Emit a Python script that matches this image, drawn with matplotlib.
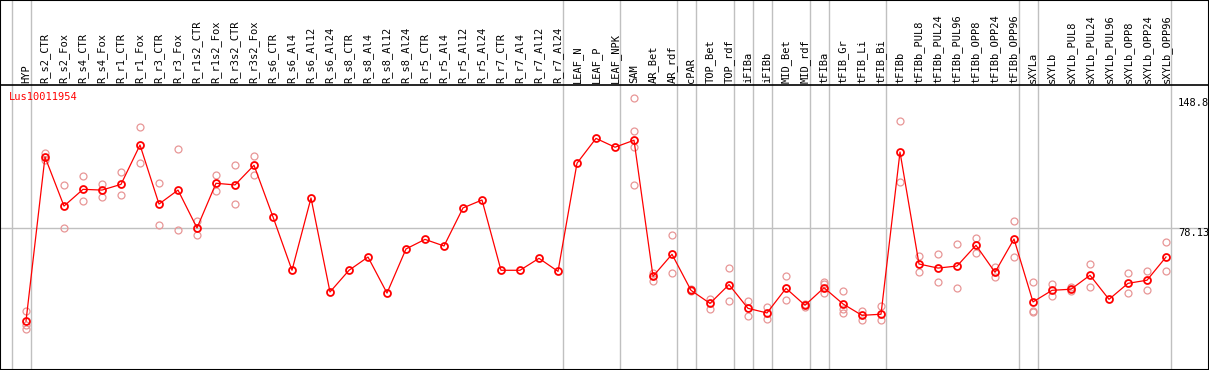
import numpy as np
import matplotlib
matplotlib.use('Agg')
import matplotlib.pyplot as plt

# sample columns
labels = ['HYP', 'R_s2_CTR', 'R_s2_Fox', 'R_s4_CTR', 'R_s4_Fox', 'R_r1_CTR', 'R_r1_Fox',
          'R_r3_CTR', 'R_r3_Fox', 'R_r1s2_CTR', 'R_r1s2_Fox', 'R_r3s2_CTR', 'R_r3s2_Fox',
          'R_s6_CTR', 'R_s6_Al4', 'R_s6_Al12', 'R_s6_Al24', 'R_s8_CTR', 'R_s8_Al4',
          'R_s8_Al12', 'R_s8_Al24', 'R_r5_CTR', 'R_r5_Al4', 'R_r5_Al12', 'R_r5_Al24',
          'R_r7_CTR', 'R_r7_Al4', 'R_r7_Al12', 'R_r7_Al24', 'LEAF_N', 'LEAF_P', 'LEAF_NPK',
          'SAM', 'AR_Bet', 'AR_rdf', 'cPAR', 'TOP_Bet', 'TOP_rdf', 'iFIBa', 'iFIBb',
          'MID_Bet', 'MID_rdf', 'tFIBa', 'tFIB_Gr', 'tFIB_Li', 'tFIB_Bi', 'tFIBb',
          'tFIBb_PUL8', 'tFIBb_PUL24', 'tFIBb_PUL96', 'tFIBb_OPP8', 'tFIBb_OPP24',
          'tFIBb_OPP96', 'sXYLa', 'sXYLb', 'sXYLb_PUL8', 'sXYLb_PUL24', 'sXYLb_PUL96',
          'sXYLb_OPP8', 'sXYLb_OPP24', 'sXYLb_OPP96']

# mean expression per sample
means = [27.7, 116.9, 90.2, 99.3, 98.9, 102.0, 123.4, 91.3, 98.9, 78.3, 102.6, 101.7, 112.4,
         84.3, 55.3, 94.6, 43.5, 55.3, 62.5, 42.9, 66.9, 72.1, 68.5, 89.2, 93.5,
         55.3, 55.3, 61.8, 54.7, 113.5, 127.0, 122.2,
         126.0, 52.0, 64.0, 44.4, 37.3, 47.5, 34.6, 32.1, 45.5, 36.3, 45.8, 37.0, 30.8, 31.4,
         119.6, 58.7, 56.5, 57.6, 68.9, 54.2, 72.3,
         38.1, 44.4, 45.0, 52.6, 39.5, 48.2, 49.9, 62.5]

# individual replicates (empty where only the mean is shown)
reps = [[33.2, 25.5, 23.4], [119.2, 115.2], [101.5, 78.3], [106.4, 92.8], [102.2, 95.0],
        [108.7, 96.1], [133.2, 113.5], [102.6, 79.9], [121.1, 77.2], [82.3, 74.6],
        [107.1, 98.2], [112.5, 91.2], [117.4, 106.9],
        [], [], [], [], [], [], [], [], [], [], [], [], [], [], [], [], [], [], [],
        [148.8, 130.9, 122.2, 101.5], [53.7, 49.5], [74.3, 53.7], [45.0, 44.0],
        [39.7, 34.2], [56.4, 38.4], [38.6, 30.6], [35.2, 28.8], [52.0, 39.0], [37.0, 35.3],
        [49.1, 47.7, 42.8], [44.0, 34.1, 31.9], [33.0, 28.4], [35.9, 28.1],
        [136.3, 103.1], [63.1, 54.2], [64.1, 48.8], [69.6, 45.5], [72.8, 64.9],
        [57.2, 51.8], [82.1, 62.4],
        [48.8, 33.0, 32.5], [47.8, 41.2], [46.4, 44.0], [58.7, 46.0], [], [53.8, 42.8],
        [54.7, 44.4], [70.5, 54.7]]

# columns followed by a grey separator (-1 = before the first column)
separators = [-1, 0, 28, 31, 34, 35, 37, 38, 39, 41, 42, 45, 52, 53, 60]

gene = 'Lus10011954'
mid_val = 78.13
ytick_vals = [148.8, 78.13, 0]

# layout (pixels)
W, H = 1209, 370
col0_px, col_step = 26, 19
zero_px, px_per_unit = 372, 1.8395
top_val = 2 * mid_val

fig = plt.figure(figsize=(W / 100, H / 100), dpi=100)
ax = fig.add_axes([0, 0, 1, 1])
ax.set_xlim(-col0_px / col_step, (W - col0_px) / col_step)
ax.set_ylim((zero_px - H) / px_per_unit, zero_px / px_per_unit)
ax.set_xticks([])
ax.set_yticks([])
for s in ax.spines.values():
    s.set_linewidth(1.5)
    s.set_color('black')

grey = '#c0c0c0'
for c in separators:
    ax.axvline(c + 5 / col_step, color=grey, lw=1, zorder=1)
ax.axhline(mid_val, color=grey, lw=1, zorder=1)
ax.axhline(top_val, color='black', lw=1.2, zorder=2)

x = np.arange(len(labels))
rx = [i for i, r in enumerate(reps) for v in r]
ry = [v for r in reps for v in r]
ax.plot(rx, ry, 'o', ms=5, mfc='none', mec='#e89696', mew=0.9, zorder=3)
ax.plot(x, means, '-', color='red', lw=0.9, zorder=4)
ax.plot(x, means, 'o', ms=5, mfc='none', mec='red', mew=1.3, zorder=5)

mono = 'DejaVu Sans Mono'
for i, lab in enumerate(labels):
    ax.text(i, top_val + 2 / px_per_unit, lab, rotation=90, ha='center', va='bottom',
            fontsize=7.5, family=mono)

ax.text((9 - col0_px) / col_step, top_val - 12 / px_per_unit, gene, color='red',
        ha='left', va='center', fontsize=7.5, family=mono)

xl = len(labels) - 1 + 12 / col_step
for v, dy in zip(ytick_vals, [-3.4, -3.4, 7.2]):
    lab = ('%g' % v)
    ax.annotate(lab, (xl, v), xytext=(0, dy), textcoords='offset points',
                ha='left', va='center', fontsize=7.5, family=mono)

plt.savefig('out.png', dpi=100)
